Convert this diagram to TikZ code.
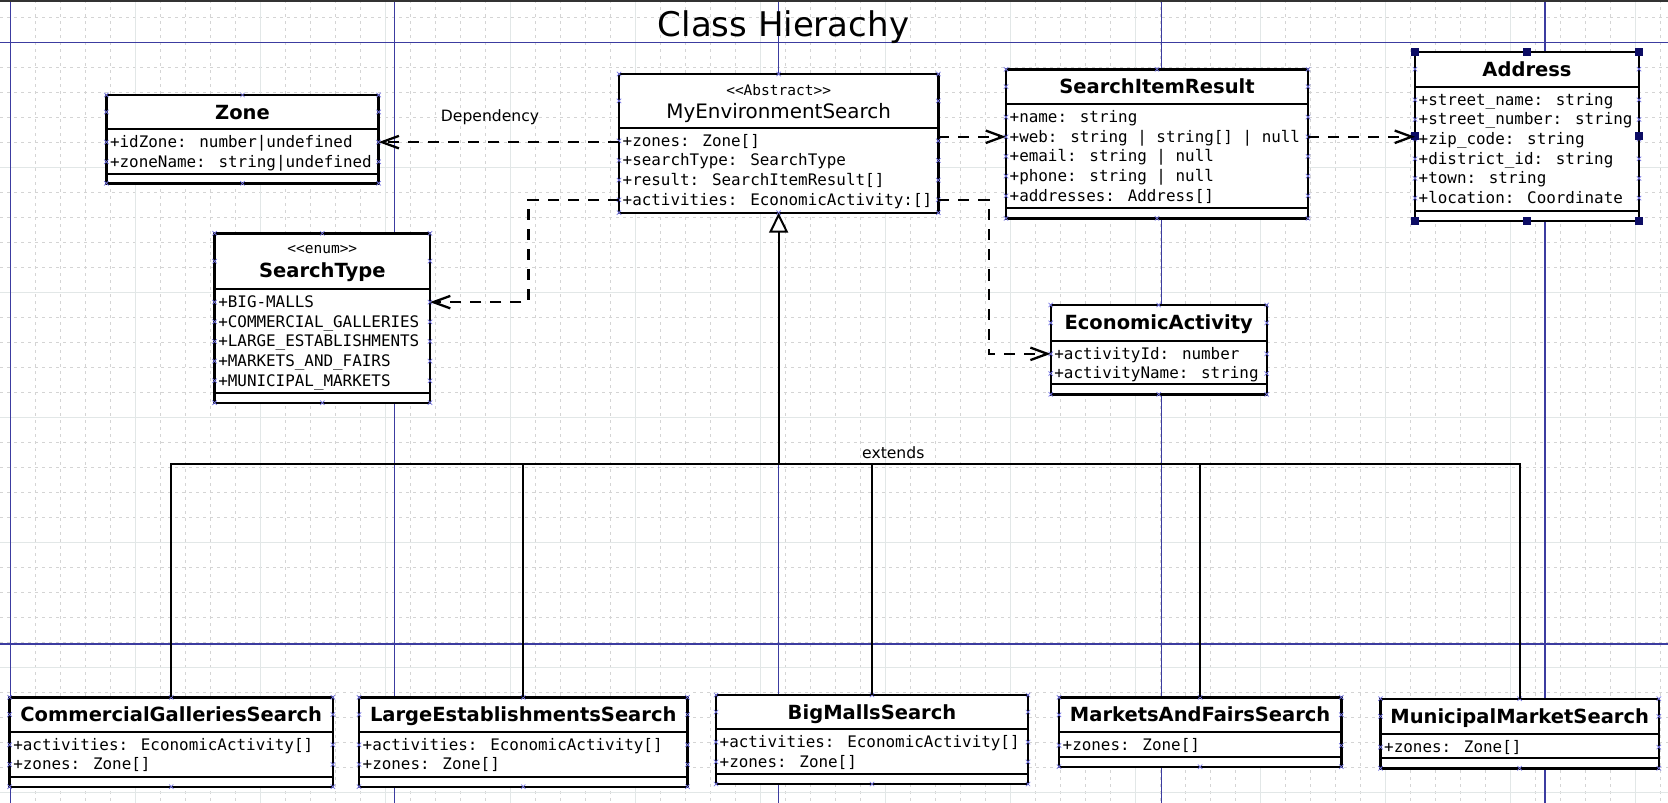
\documentclass[tikz,border=0pt]{standalone}
\usepackage{fontspec}
\setmainfont{DejaVu Sans}
\newfontfamily\monof{DejaVu Sans Mono}
\usetikzlibrary{arrows.meta,calc}

\definecolor{pageblue}{RGB}{60,60,160}
\definecolor{gridminor}{RGB}{212,212,212}
\definecolor{gridmajor}{RGB}{226,231,231}
\definecolor{handlecol}{RGB}{12,12,100}
\definecolor{cpcol}{RGB}{120,120,230}

\tikzset{
 classbox/.style={draw=black, fill=white, line width=2.4pt, anchor=north west, inner sep=0pt, outer sep=0pt},
 divider/.style={draw=black, line width=2pt},
 attr/.style={font=\monof\fontsize{15.9}{19}\selectfont, inner sep=0pt, anchor=base west},
 cname/.style={font=\bfseries\fontsize{19.5}{22}\selectfont, inner sep=0pt, anchor=base},
 cnameplain/.style={font=\fontsize{19.9}{22}\selectfont, inner sep=0pt, anchor=base},
 stereo/.style={font=\monof\fontsize{14.5}{17}\selectfont, inner sep=0pt, anchor=base},
 lbl/.style={font=\fontsize{15.6}{18}\selectfont, inner sep=0pt, anchor=base},
 dep/.style={draw=black, line width=2.3pt, dash pattern=on 11pt off 9pt, -{Straight Barb[length=17pt,width=12.5pt,line width=2.3pt]}},
 gen/.style={draw=black, line width=2.2pt},
 cp/.style={draw=cpcol, line width=0.7pt},
 handle/.style={fill=handlecol},
 pageline/.style={draw=pageblue, line width=1.3pt},
 gminor/.style={draw=gridminor, line width=0.7pt, dash pattern=on 3pt off 4pt},
 gmajor/.style={draw=gridmajor, line width=1pt},
}

\newcommand\cpx[1]{\draw[cp] ($(#1)+(-2.2,-2.2)$) -- ++(4.4,4.4) ($(#1)+(-2.2,2.2)$) -- ++(4.4,-4.4);}

% #1 name #2 x #3 ytop #4 width #5 header h #6 attr h #7 ops h
\newcommand\umlbox[7]{%
  \node[classbox, minimum width=#4pt, minimum height={#5pt+#6pt+#7pt}] (#1) at (#2,-#3) {};
  \draw[divider] ($(#1.north west)+(0,-#5)$) -- ($(#1.north east)+(0,-#5)$);
  \draw[divider] ($(#1.north west)+(0,-#5-#6)$) -- ($(#1.north east)+(0,-#5-#6)$);
  \path (#1.north) ++(0,-#5/2) coordinate (#1H);
  \path (#1.north west) ++(0,-#5) coordinate (#1AT);
  \cpx{#1.north west}\cpx{#1.north}\cpx{#1.north east}
  \cpx{#1.south west}\cpx{#1.south}\cpx{#1.south east}
  \path (#1.north west) ++(0,-#5/2) coordinate (#1HL);
  \path (#1.north east) ++(0,-#5/2) coordinate (#1HR);
  \cpx{#1HL}\cpx{#1HR}
}

\newcommand\umlattrs[2]{%
  \foreach \txt [count=\i] in {#2} {%
    \path (#1AT) ++(0,{-3.3-19.66*(\i-0.5)}) coordinate (#1L\i);
    \path (#1L\i -| #1.east) coordinate (#1R\i);
    \node[attr] (#1A\i) at ($(#1L\i)+(3.5,-5.5)$) {\txt};
    \cpx{#1L\i}\cpx{#1R\i}
  }%
}

\begin{document}
\begin{tikzpicture}[x=1pt,y=1pt]
\useasboundingbox (0,0) rectangle (1668,-803);
\fill[white] (0,0) rectangle (1668,-803);

% grid
\foreach \k in {0,...,66} \draw[gminor] ({10.7+25*\k},0) -- ({10.7+25*\k},-803);
\foreach \k in {-1,...,30} \draw[gminor] (0,{-42.7-25*\k}) -- (1668,{-42.7-25*\k});
\foreach \k in {0,...,13} \draw[gmajor] ({10.7+125*\k},0) -- ({10.7+125*\k},-803);
\foreach \k in {0,...,6} \draw[gmajor] (0,{-42.7-125*\k}) -- (1668,{-42.7-125*\k});

% page lines
\foreach \xx in {10.7,394.6,778.6,1161.6,1545} \draw[pageline] (\xx,0) -- (\xx,-803);
\foreach \yy in {42.7,644} \draw[pageline] (0,-\yy) -- (1668,-\yy);
\draw[black!80, line width=1.6pt] (0,-0.8) -- (1668,-0.8);

\node[font=\fontsize{34}{40}\selectfont, inner sep=0pt, anchor=base] (title) at (783.5,-36) {Class Hierachy};

% Zone
\umlbox{zone}{106.4}{95}{272.2}{34}{45.3}{9}
\node[cname] (zoneT) at ($(zoneH)+(0,-7)$) {Zone};
\umlattrs{zone}{{+idZone: number|undefined},{+zoneName: string|undefined}}

% MyEnvironmentSearch
\umlbox{mes}{619}{74}{319.3}{53.7}{85}{0}
\node[stereo] (mesS) at ($(mes.north)+(0,-21.4)$) {<<Abstract>>};
\node[cnameplain] (mesT) at ($(mes.north)+(0,-44.2)$) {MyEnvironmentSearch};
\umlattrs{mes}{{+zones: Zone[]},{+searchType: SearchType},{+result: SearchItemResult[]},{+activities: EconomicActivity:[]}}

% SearchItemResult
\umlbox{sir}{1006}{69.3}{302}{34.7}{104.3}{10}
\node[cname] (sirT) at ($(sirH)+(0,-7)$) {SearchItemResult};
\umlattrs{sir}{{+name: string},{+web: string | string[] | null},{+email: string | null},{+phone: string | null},{+addresses: Address[]}}

% Address
\umlbox{addr}{1415}{51.7}{224}{35}{124}{10}
\node[cname] (addrT) at ($(addrH)+(0,-7)$) {Address};
\umlattrs{addr}{{+street\_name: string},{+street\_number: string},{+zip\_code: string},{+district\_id: string},{+town: string},{+location: Coordinate}}
\foreach \a in {north west,north,north east,west,east,south west,south,south east}
  \fill[handle] ($(addr.\a)+(-3.8,-3.8)$) rectangle ++(7.6,7.6);

% SearchType
\umlbox{st}{214.6}{233.3}{215.4}{55.7}{104.3}{9.4}
\node[stereo] (stS) at ($(st.north)+(0,-20.5)$) {<<enum>>};
\node[cname] (stT) at ($(st.north)+(0,-44.4)$) {SearchType};
\umlattrs{st}{{+BIG-MALLS},{+COMMERCIAL\_GALLERIES},{+LARGE\_ESTABLISHMENTS},{+MARKETS\_AND\_FAIRS},{+MUNICIPAL\_MARKETS}}

% EconomicActivity
\umlbox{ea}{1050.7}{305}{216}{35.7}{43.3}{10.3}
\node[cname] (eaT) at ($(eaH)+(0,-7)$) {EconomicActivity};
\umlattrs{ea}{{+activityId: number},{+activityName: string}}

% children
\umlbox{cg}{9.6}{697.3}{323.3}{34.4}{45}{10}
\node[cname] (cgT) at ($(cgH)+(0,-7)$) {CommercialGalleriesSearch};
\umlattrs{cg}{{+activities: EconomicActivity[]},{+zones: Zone[]}}

\umlbox{les}{359}{697.3}{328.5}{34.4}{45}{10}
\node[cname] (lesT) at ($(lesH)+(0,-7)$) {LargeEstablishmentsSearch};
\umlattrs{les}{{+activities: EconomicActivity[]},{+zones: Zone[]}}

\umlbox{bms}{716}{695}{312}{34}{45}{10}
\node[cname] (bmsT) at ($(bmsH)+(0,-7)$) {BigMallsSearch};
\umlattrs{bms}{{+activities: EconomicActivity[]},{+zones: Zone[]}}

\umlbox{maf}{1059}{697.3}{282.3}{35}{24.4}{10}
\node[cname] (mafT) at ($(mafH)+(0,-7)$) {MarketsAndFairsSearch};
\umlattrs{maf}{{+zones: Zone[]}}

\umlbox{mms}{1380.5}{698.7}{278.3}{35.3}{24.3}{10}
\node[cname] (mmsT) at ($(mmsH)+(0,-7)$) {MunicipalMarketSearch};
\umlattrs{mms}{{+zones: Zone[]}}

% dependencies
\draw[dep] (mes.west |- zoneR1) -- (zoneR1);
\node[lbl] (depL) at (490,-121.7) {Dependency};
\draw[dep] (mes.east |- sirL2) -- (sirL2);
\draw[dep] (sirR2) -- (addr.west |- sirR2);
\coordinate (k1) at (528.5,-250);
\draw[dep] (mesL4) -| (k1) |- (stR1);
\coordinate (k2) at (989,-280);
\draw[dep] (mesR4) -| (k2) |- (eaL1);

% generalization
\path (mes.south) ++(0,-251.3) coordinate (bar);
\foreach \c in {cg,les,bms,maf,mms} \draw[gen] (\c.north) |- (bar);
\draw[gen, -{Triangle[fill=white, length=20pt, width=19pt, line width=2pt]}] (bar) -- (mes.south);
\node[lbl] (extL) at (893.3,-458.3) {extends};
\end{tikzpicture}
\end{document}
